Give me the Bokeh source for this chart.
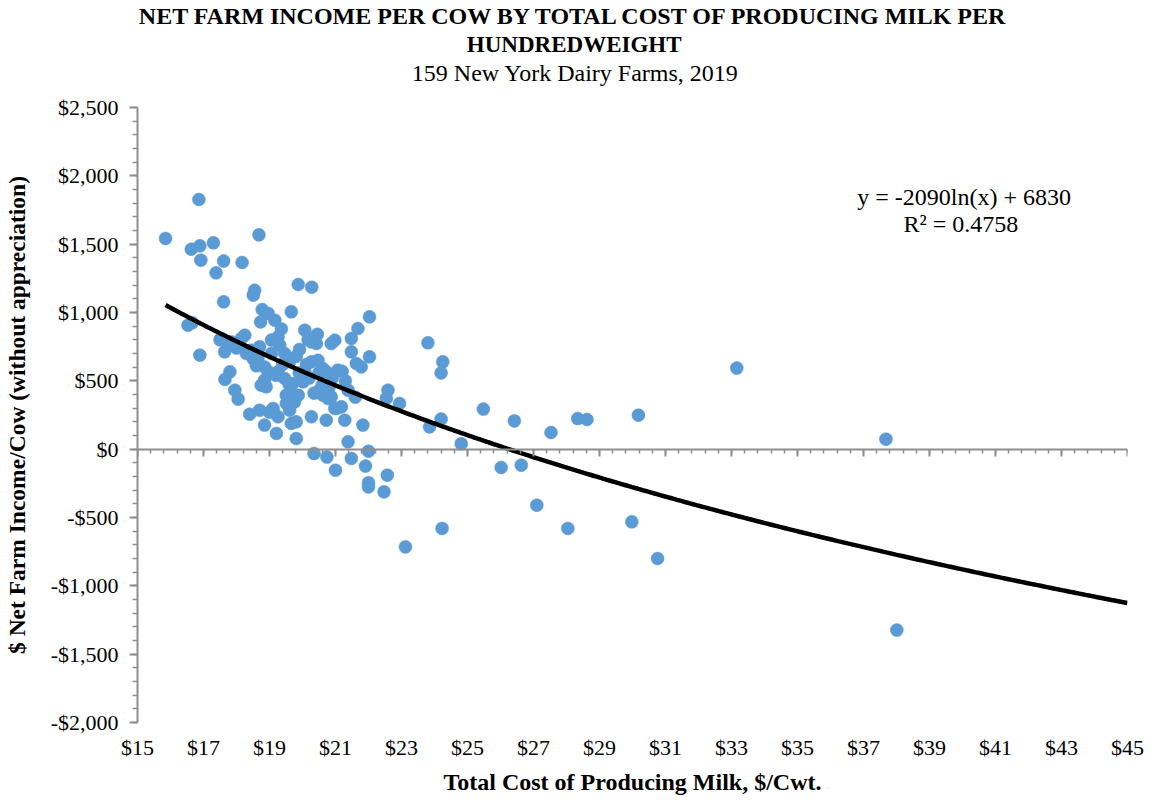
import numpy as np
from bokeh.plotting import figure
from bokeh.models import (Range1d, LinearAxis, SingleIntervalTicker, FixedTicker,
                          CustomJSTickFormatter, Label, Title, ColumnDataSource)
from bokeh.embed import file_html
from bokeh.resources import INLINE

# ---------------- data ----------------
cost_per_cwt = [
    15.85, 16.86, 16.63, 16.89, 17.30, 16.92, 17.61, 18.17, 17.38, 18.68,
    18.55, 18.51, 17.61, 19.87, 20.28, 18.78, 18.96, 19.66, 18.73, 19.16,
    19.36, 16.53, 16.66, 22.03, 20.07, 20.45, 21.68,
    16.89, 17.54, 17.75, 17.64, 17.85, 18.15, 18.25, 18.45, 18.70, 19.06,
    19.26, 19.31, 19.06, 18.65, 18.50, 18.85, 18.96, 19.26, 19.91, 20.27,
    20.42, 20.17, 20.87, 20.98, 21.48, 21.48, 22.03, 21.63, 21.78, 23.80,
    24.25, 24.20, 20.27, 20.12, 20.47, 20.62, 20.72, 21.07, 20.07, 19.61,
    19.46, 18.30, 19.81, 17.50, 18.00,
    17.80, 17.65, 17.95, 18.05, 19.46, 18.85, 18.75, 18.90, 20.02, 19.51,
    19.66, 19.87, 19.76, 19.51, 19.11, 20.52, 20.62, 20.77, 20.87, 20.98,
    21.18, 21.38, 22.59, 22.54, 22.94, 19.20, 19.60, 20.20, 20.90, 21.30,
    20.60, 21.60, 20.35,
    18.40, 18.70, 19.61, 18.85, 19.26, 19.21, 19.81, 19.66, 19.81, 20.27,
    20.72, 21.28, 21.83, 21.38, 23.85, 24.20, 24.81, 25.48, 26.42, 27.53,
    28.34, 28.62, 30.18, 33.16, 37.68, 19.00, 21.05,
    20.35, 20.74, 21.00, 21.48, 21.91, 22.00, 22.00, 22.00, 22.47, 22.57,
    23.12, 24.23, 26.02, 26.63, 27.10, 28.04, 29.98, 30.76, 38.01,
    18.60, 19.40, 19.90, 20.50, 18.30, 19.70, 20.80, 21.20,
]
nfi_per_cow = [
    1542, 1827, 1463, 1488, 1510, 1383, 1376, 1366, 1290, 1568,
    1163, 1127, 1078, 1205, 1185, 1022, 993, 1005, 931, 944,
    880, 907, 925, 968, 871, 840, 883,
    688, 810, 761, 712, 785, 810, 834, 724, 749, 798,
    822, 761, 700, 663, 663, 602, 566, 566, 730, 785,
    773, 800, 773, 797, 810, 712, 676, 627, 602, 778,
    639, 558, 639, 620, 650, 590, 566, 578, 566, 640,
    700, 720, 680, 800, 740,
    566, 510, 432, 366, 517, 505, 468, 456, 493, 395,
    407, 395, 346, 334, 298, 432, 395, 371, 383, 298,
    310, 432, 432, 371, 334, 540, 470, 520, 520, 500,
    470, 380, 410,
    256, 285, 285, 176, 237, 115, 78, 188, 200, 237,
    212, 212, 176, 54, 163, 220, 40, 293, 207, 122,
    224, 217, 249, 593, 73, 270, 300,
    -32, -58, -154, -68, -124, -15, -245, -276, -312, -190,
    -715, -580, -134, -117, -410, -580, -532, -800, -1324,
    610, 620, 560, 560, 700, 480, 450, 570,
]
x_tick_values = [15, 17, 19, 21, 23, 25, 27, 29, 31, 33, 35, 37, 39, 41, 43, 45]

# logarithmic trendline shown on the chart
trend_a = -2090.0
trend_b = 6830.0
trend_r2 = 0.4758

title_line1 = "NET FARM INCOME PER COW BY TOTAL COST OF PRODUCING MILK PER"
title_line2 = "HUNDREDWEIGHT"
subtitle = "159 New York Dairy Farms, 2019"
x_label = "Total Cost of Producing Milk, $/Cwt."
y_label = "$ Net Farm Income/Cow (without appreciation)"

# ---------------- figure ----------------
SERIF = "Liberation Serif"
GRID = "#8e8e8e"

p = figure(width=1145, height=799, output_backend="svg", toolbar_location=None,
           x_range=Range1d(15, 45), y_range=Range1d(-2000, 2500),
           min_border_left=136, min_border_right=18, min_border_top=107,
           min_border_bottom=77, x_axis_type=None, y_axis_type=None)
p.outline_line_color = None
p.background_fill_color = "white"
p.border_fill_color = "white"

# y axis
yax = LinearAxis(ticker=SingleIntervalTicker(interval=500, num_minor_ticks=5))
yax.formatter = CustomJSTickFormatter(code="""
    const a = Math.abs(tick).toLocaleString('en-US');
    return (tick < 0 ? '-$' : '$') + a;
""")
yax.axis_line_color = GRID
yax.axis_line_width = 2
yax.major_tick_line_color = GRID
yax.major_tick_line_width = 2
yax.major_tick_out = 8
yax.major_tick_in = 0
yax.minor_tick_line_color = GRID
yax.minor_tick_line_width = 1.5
yax.minor_tick_out = 5
yax.minor_tick_in = 0
yax.major_label_standoff = 11
yax.major_label_text_font = SERIF
yax.major_label_text_font_size = "22px"
yax.major_label_text_color = "black"
yax.axis_label = y_label
yax.axis_label_text_font = SERIF
yax.axis_label_text_font_style = "bold"
yax.axis_label_text_font_size = "23.5px"
yax.axis_label_text_color = "black"
yax.axis_label_standoff = 18
p.add_layout(yax, "left")

x_minor = list(np.round(np.arange(15, 45.001, 0.4), 2))

# x axis: labels at the bottom
xax = LinearAxis(ticker=FixedTicker(ticks=x_tick_values, minor_ticks=x_minor))
xax.formatter = CustomJSTickFormatter(code="return '$' + tick;")
xax.axis_line_color = None
xax.major_tick_line_color = None
xax.minor_tick_line_color = None
xax.major_tick_out = 0
xax.minor_tick_out = 0
xax.major_label_standoff = 12
xax.major_label_text_font = SERIF
xax.major_label_text_font_size = "22px"
xax.major_label_text_color = "black"
xax.axis_label = x_label
xax.axis_label_text_font = SERIF
xax.axis_label_text_font_style = "bold"
xax.axis_label_text_font_size = "24px"
xax.axis_label_text_color = "black"
xax.axis_label_standoff = 6
p.add_layout(xax, "below")

# x axis line crossing at zero (ticks hang down from the line)
xzero = LinearAxis(ticker=FixedTicker(ticks=x_tick_values, minor_ticks=x_minor), fixed_location=0)
xzero.axis_line_color = GRID
xzero.axis_line_width = 2
xzero.major_tick_line_color = GRID
xzero.major_tick_line_width = 2
xzero.major_tick_out = 0
xzero.major_tick_in = 7
xzero.minor_tick_line_color = GRID
xzero.minor_tick_line_width = 1.5
xzero.minor_tick_out = 0
xzero.minor_tick_in = 4
xzero.major_label_text_alpha = 0
xzero.major_label_text_font_size = "0px"
xzero.major_label_standoff = 0
p.add_layout(xzero, "above")

# spacer between frame and titles (keeps the title block at its place)
p.add_layout(Title(text=" ", text_font_size="10px", standoff=6.9), "above")

# titles: later added = further up
cx_page = 575.0   # horizontal centre of the whole chart
frame_left = 136.0
def left_offset(width_em, size_px):
    return cx_page - width_em * size_px / 2.0 - frame_left

p.add_layout(Title(text=subtitle, align="left", offset=left_offset(13.72, 24),
                   vertical_align="middle", standoff=0.5,
                   text_font=SERIF, text_font_size="24px", text_font_style="normal",
                   text_color="black"), "above")
p.add_layout(Title(text=title_line2, align="left", offset=left_offset(9.534, 23),
                   vertical_align="middle", standoff=0.5,
                   text_font=SERIF, text_font_size="23px", text_font_style="bold",
                   text_color="black"), "above")
p.add_layout(Title(text=title_line1, align="left", offset=left_offset(36.473, 24),
                   vertical_align="middle", standoff=1.4,
                   text_font=SERIF, text_font_size="24px", text_font_style="bold",
                   text_color="black"), "above")

# horizontal gridlines
p.ygrid.ticker = SingleIntervalTicker(interval=500)
p.ygrid.grid_line_color = GRID
p.ygrid.grid_line_width = 2
p.xgrid.grid_line_color = None

# scatter
src = ColumnDataSource(dict(x=cost_per_cwt, y=nfi_per_cow))
p.scatter("x", "y", source=src, size=13, fill_color="#5B9BD5", line_color="#5B9BD5",
          line_width=0.5)

# trendline
tx = np.linspace(min(cost_per_cwt), 45, 300)
ty = trend_a * np.log(tx) + trend_b
p.line(tx, ty, line_color="black", line_width=4.5)

# equation labels
eq1 = "y = %dln(x) + %d" % (trend_a, trend_b)
eq2 = "R\u00b2 = %.4f" % trend_r2
p.add_layout(Label(x=40.05, y=1844, text=eq1, text_align="center", text_baseline="middle",
                   text_font=SERIF, text_font_size="24px", text_color="black"))
p.add_layout(Label(x=39.95, y=1646, text=eq2, text_align="center", text_baseline="middle",
                   text_font=SERIF, text_font_size="24px", text_color="black"))

open("out.html", "w").write(file_html(p, INLINE))
